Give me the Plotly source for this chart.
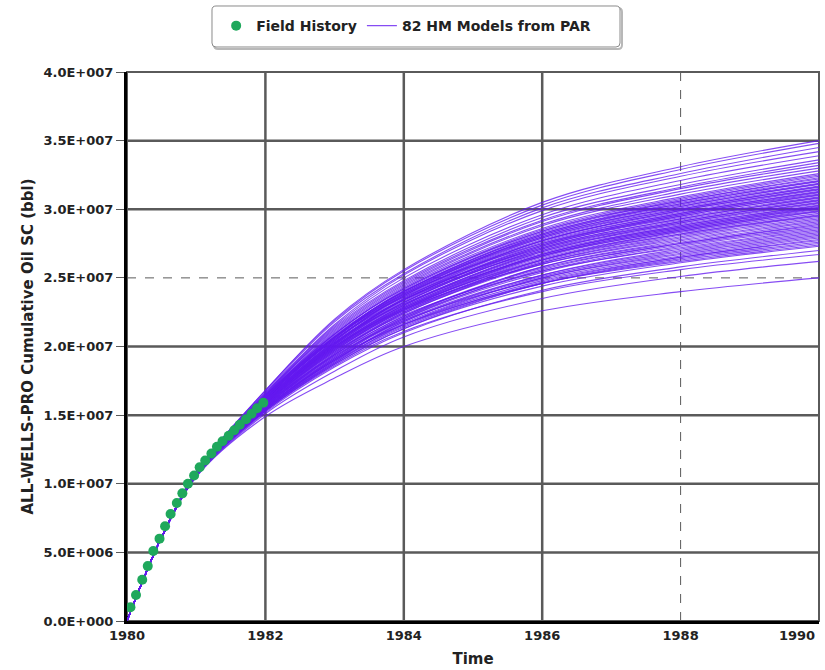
import plotly.graph_objects as go

# ---- field history: cumulative oil (MMbbl) by decimal year ----
HIST_T = [1980.05, 1980.13, 1980.22, 1980.30, 1980.38, 1980.47, 1980.55, 1980.63,
          1980.72, 1980.80, 1980.88, 1980.97, 1981.05, 1981.13, 1981.22, 1981.30,
          1981.38, 1981.47, 1981.55, 1981.63, 1981.72, 1981.80, 1981.88, 1981.97]
HIST_Q = [1.0, 1.9, 3.0, 4.0, 5.1, 6.0, 6.9, 7.8, 8.6, 9.3, 10.0, 10.6,
          11.2, 11.7, 12.2, 12.7, 13.1, 13.5, 13.9, 14.3, 14.7, 15.1, 15.5, 15.9]

# ---- history-matched models: shared start, then per-model values (MMbbl) ----
START_T = [1980.0, 1980.25, 1980.5]
START_Q = [0.0, 3.2, 6.1]
KNOT_T = [1981, 1982, 1983, 1984, 1986, 1988, 1990]
MODEL_Q = [
    (10.5, 14.9, 17.7, 20.0, 22.6, 24.0, 25.0),
    (10.5, 15.1, 18.2, 20.7, 23.5, 25.1, 26.2),
    (10.6, 15.3, 18.6, 21.1, 24.0, 25.6, 26.7),
    (10.6, 15.2, 18.5, 21.0, 24.1, 25.8, 27.0),
    (10.6, 15.3, 18.7, 21.3, 24.4, 26.1, 27.3),
    (10.6, 15.5, 19.1, 21.6, 24.6, 26.2, 27.4),
    (10.6, 15.4, 18.8, 21.4, 24.6, 26.3, 27.5),
    (10.6, 15.3, 18.7, 21.3, 24.6, 26.4, 27.6),
    (10.6, 15.4, 18.9, 21.5, 24.7, 26.5, 27.7),
    (10.6, 15.4, 19.0, 21.6, 24.8, 26.5, 27.8),
    (10.7, 15.6, 19.3, 21.9, 24.9, 26.6, 27.9),
    (10.6, 15.5, 19.0, 21.7, 25.0, 26.7, 28.0),
    (10.6, 15.4, 18.8, 21.6, 25.0, 26.8, 28.1),
    (10.6, 15.5, 19.0, 21.8, 25.1, 26.9, 28.2),
    (10.6, 15.5, 19.1, 21.9, 25.2, 27.0, 28.3),
    (10.6, 15.4, 18.9, 21.8, 25.2, 27.1, 28.4),
    (10.7, 15.8, 19.6, 22.3, 25.5, 27.2, 28.5),
    (10.6, 15.6, 19.2, 22.0, 25.4, 27.3, 28.6),
    (10.7, 15.6, 19.3, 22.1, 25.5, 27.4, 28.7),
    (10.6, 15.5, 19.1, 22.0, 25.6, 27.5, 28.8),
    (10.7, 15.7, 19.4, 22.2, 25.7, 27.5, 28.9),
    (10.7, 15.7, 19.4, 22.2, 25.8, 27.6, 29.0),
    (10.6, 15.5, 19.2, 22.1, 25.8, 27.7, 29.1),
    (10.7, 16.0, 20.0, 22.7, 26.0, 27.8, 29.2),
    (10.7, 15.7, 19.5, 22.4, 26.0, 27.9, 29.3),
    (10.7, 15.7, 19.6, 22.5, 26.1, 28.0, 29.4),
    (10.7, 15.6, 19.4, 22.4, 26.1, 28.1, 29.5),
    (10.7, 15.9, 19.9, 22.8, 26.3, 28.2, 29.55),
    (10.7, 15.8, 19.7, 22.6, 26.2, 28.2, 29.6),
    (10.7, 15.8, 19.7, 22.6, 26.3, 28.3, 29.7),
    (10.7, 15.6, 19.5, 22.5, 26.3, 28.4, 29.8),
    (10.7, 15.8, 19.8, 22.7, 26.4, 28.4, 29.85),
    (10.7, 15.8, 19.8, 22.7, 26.5, 28.5, 29.9),
    (10.7, 16.1, 20.3, 23.1, 26.6, 28.5, 30.0),
    (10.7, 15.9, 19.9, 22.8, 26.6, 28.6, 30.05),
    (10.7, 15.7, 19.7, 22.7, 26.6, 28.6, 30.1),
    (10.7, 15.9, 20.0, 22.9, 26.7, 28.7, 30.15),
    (10.7, 15.9, 19.9, 22.9, 26.7, 28.7, 30.2),
    (10.7, 15.8, 19.8, 22.8, 26.7, 28.8, 30.25),
    (10.7, 15.9, 20.0, 23.0, 26.8, 28.8, 30.3),
    (10.7, 15.9, 20.0, 23.0, 26.9, 28.9, 30.4),
    (10.7, 16.2, 20.5, 23.4, 27.0, 29.0, 30.45),
    (10.7, 16.0, 20.1, 23.1, 26.9, 29.0, 30.5),
    (10.7, 15.8, 19.9, 23.0, 27.0, 29.1, 30.6),
    (10.7, 16.0, 20.1, 23.2, 27.1, 29.1, 30.65),
    (10.7, 16.0, 20.2, 23.2, 27.1, 29.2, 30.7),
    (10.8, 16.3, 20.7, 23.6, 27.2, 29.3, 30.8),
    (10.7, 16.0, 20.2, 23.3, 27.2, 29.3, 30.85),
    (10.7, 15.9, 20.1, 23.2, 27.3, 29.4, 30.9),
    (10.7, 16.0, 20.2, 23.4, 27.3, 29.5, 31.0),
    (10.7, 16.1, 20.2, 23.4, 27.4, 29.5, 31.05),
    (10.7, 16.1, 20.3, 23.4, 27.4, 29.6, 31.1),
    (10.8, 16.4, 20.7, 23.8, 27.5, 29.6, 31.2),
    (10.7, 16.0, 20.2, 23.4, 27.5, 29.7, 31.25),
    (10.8, 16.1, 20.3, 23.5, 27.6, 29.7, 31.3),
    (10.8, 16.1, 20.4, 23.6, 27.7, 29.8, 31.4),
    (10.8, 16.2, 20.5, 23.7, 27.7, 29.9, 31.45),
    (10.8, 15.9, 20.2, 23.5, 27.7, 29.9, 31.5),
    (10.8, 16.2, 20.5, 23.7, 27.8, 30.0, 31.6),
    (10.8, 16.3, 20.6, 23.9, 27.9, 30.0, 31.65),
    (10.8, 16.1, 20.4, 23.7, 27.9, 30.1, 31.7),
    (10.8, 16.2, 20.6, 23.8, 28.0, 30.2, 31.8),
    (10.8, 16.4, 20.8, 24.0, 28.0, 30.2, 31.85),
    (10.8, 16.2, 20.6, 23.9, 28.1, 30.3, 31.9),
    (10.8, 16.0, 20.4, 23.8, 28.1, 30.4, 32.0),
    (10.8, 16.2, 20.7, 24.0, 28.2, 30.4, 32.05),
    (10.8, 16.3, 20.7, 24.0, 28.2, 30.5, 32.1),
    (10.8, 16.3, 20.7, 24.0, 28.3, 30.6, 32.2),
    (10.8, 16.4, 20.9, 24.2, 28.4, 30.6, 32.3),
    (10.8, 16.2, 20.7, 24.1, 28.4, 30.7, 32.4),
    (10.8, 16.3, 20.9, 24.2, 28.5, 30.8, 32.5),
    (10.8, 16.3, 20.9, 24.3, 28.6, 30.9, 32.6),
    (10.8, 16.4, 21.0, 24.4, 28.8, 31.1, 32.8),
    (10.8, 16.4, 21.1, 24.5, 28.9, 31.3, 33.0),
    (10.8, 16.5, 21.2, 24.6, 29.1, 31.5, 33.2),
    (10.8, 16.5, 21.3, 24.7, 29.2, 31.6, 33.4),
    (10.8, 16.5, 21.4, 24.8, 29.4, 31.8, 33.6),
    (10.9, 16.6, 21.5, 25.0, 29.6, 32.1, 33.9),
    (10.9, 16.6, 21.6, 25.2, 29.9, 32.4, 34.2),
    (10.9, 16.7, 21.8, 25.3, 30.1, 32.6, 34.5),
    (10.9, 16.8, 21.9, 25.5, 30.3, 32.9, 34.8),
    (10.9, 16.8, 22.0, 25.6, 30.5, 33.1, 35.0),
]

# ---- axes ----
X_TICKS = [1980, 1982, 1984, 1986, 1988, 1990]
X_TICK_TEXT = ["1980", "1982", "1984", "1986", "1988", "1990"]
X_DASHED = [1988]
Y_TICKS = [0, 5e6, 1e7, 1.5e7, 2e7, 2.5e7, 3e7, 3.5e7, 4e7]
Y_TICK_TEXT = ["0.0E+000", "5.0E+006", "1.0E+007", "1.5E+007", "2.0E+007",
               "2.5E+007", "3.0E+007", "3.5E+007", "4.0E+007"]
Y_DASHED = [2.5e7]

MM = 1e6
FONT = "'DejaVu Sans', Verdana, sans-serif"
TXT = "#222222"
MODEL_COLOR = "rgba(100,25,240,0.78)"
HIST_COLOR = "#1fa85c"
GRID = "#5a5a5a"
TICK_FONT = dict(family=FONT, size=13, color=TXT, weight="bold")

fig = go.Figure()

for i, row in enumerate(MODEL_Q):
    fig.add_trace(go.Scatter(
        x=START_T + KNOT_T,
        y=[q * MM for q in START_Q + list(row)],
        mode="lines",
        line=dict(color=MODEL_COLOR, width=1.1, shape="spline", smoothing=1.0),
        name="82 HM Models from PAR",
        legendgroup="models",
        legendrank=2,
        showlegend=(i == 0),
        hoverinfo="skip",
    ))

fig.add_trace(go.Scatter(
    x=HIST_T,
    y=[q * MM for q in HIST_Q],
    xaxis="x2",
    mode="markers",
    marker=dict(color=HIST_COLOR, size=10, line=dict(width=0)),
    name="Field History",
    legendrank=1,
))

shapes = []
# grid lines (solid, except the dashed reference lines)
for xv in X_TICKS[1:-1]:
    dashed = xv in X_DASHED
    shapes.append(dict(type="line", xref="x", yref="paper", x0=xv, x1=xv, y0=0, y1=1,
                       line=dict(color=GRID, width=1 if dashed else 2.5,
                                 dash="dash" if dashed else "solid"),
                       layer="below"))
for yv in Y_TICKS[1:-1]:
    dashed = yv in Y_DASHED
    shapes.append(dict(type="line", xref="paper", yref="y", x0=0, x1=1, y0=yv, y1=yv,
                       line=dict(color=GRID, width=1 if dashed else 2.5,
                                 dash="dash" if dashed else "solid"),
                       layer="below"))
# plot frame (top / right in grey)
shapes.append(dict(type="rect", xref="paper", yref="paper", x0=0, x1=1, y0=0, y1=1,
                   line=dict(color=GRID, width=2), layer="below"))

# rounded legend box with a soft shadow
PW, PH = 692.0, 549.0


def px_to_paper(xp, yp):
    return (xp - 127) / PW, (621 - yp) / PH


def rounded_box(x0, y0, x1, y1, r):
    p = lambda x, y: "%.5f,%.5f" % px_to_paper(x, y)
    return ("M " + p(x0 + r, y0) + " L " + p(x1 - r, y0) + " Q " + p(x1, y0) + " " + p(x1, y0 + r)
            + " L " + p(x1, y1 - r) + " Q " + p(x1, y1) + " " + p(x1 - r, y1)
            + " L " + p(x0 + r, y1) + " Q " + p(x0, y1) + " " + p(x0, y1 - r)
            + " L " + p(x0, y0 + r) + " Q " + p(x0, y0) + " " + p(x0 + r, y0) + " Z")


shapes.append(dict(type="path", xref="paper", yref="paper",
                   path=rounded_box(214, 8, 622, 49, 4),
                   line=dict(color="rgba(0,0,0,0.28)", width=2), fillcolor="rgba(0,0,0,0)"))
shapes.append(dict(type="path", xref="paper", yref="paper",
                   path=rounded_box(212, 6, 620, 47, 4),
                   line=dict(color="#8a8a8a", width=1), fillcolor="white"))

fig.update_layout(
    width=825, height=670,
    margin=dict(l=127, r=6, t=72, b=49, autoexpand=False),
    paper_bgcolor="white", plot_bgcolor="white",
    font=dict(family=FONT, color=TXT),
    shapes=shapes,
    showlegend=True,
    legend=dict(
        orientation="h", xref="container", yref="container",
        x=0.262, y=0.985, xanchor="left", yanchor="top",
        bgcolor="rgba(0,0,0,0)", borderwidth=0,
        font=dict(family=FONT, size=14, color=TXT, weight="bold"),
        itemwidth=30, tracegroupgap=0,
    ),
    xaxis=dict(
        range=[1980, 1990], tickmode="array", tickvals=X_TICKS[:-1], ticktext=X_TICK_TEXT[:-1],
        showgrid=False, zeroline=False, showline=True, linecolor="black", linewidth=3,
        ticks="", automargin=False, tickfont=TICK_FONT,
        title=dict(text="Time", font=dict(family=FONT, size=15, color=TXT, weight="bold"),
                   standoff=12),
    ),
    # companion axis carrying the right-hand end label, nudged inside the figure
    xaxis2=dict(
        matches="x", overlaying="x", anchor="y", side="bottom",
        tickmode="array", tickvals=X_TICKS[-1:], ticktext=X_TICK_TEXT[-1:],
        ticklabelshift=-22, showgrid=False, zeroline=False,
        showline=True, linecolor="black", linewidth=3,
        ticks="", automargin=False, tickfont=TICK_FONT,
    ),
    yaxis=dict(
        range=[0, 4e7], tickmode="array", tickvals=Y_TICKS, ticktext=Y_TICK_TEXT,
        showgrid=False, zeroline=False, showline=True, linecolor="black", linewidth=3,
        ticks="outside", ticklen=8, tickcolor=GRID, tickwidth=1, automargin=False,
        tickfont=TICK_FONT,
        title=dict(text="ALL-WELLS-PRO Cumulative Oil SC (bbl)",
                   font=dict(family=FONT, size=15, color=TXT, weight="bold"),
                   standoff=7),
    ),
)

fig.write_html("out.html")
